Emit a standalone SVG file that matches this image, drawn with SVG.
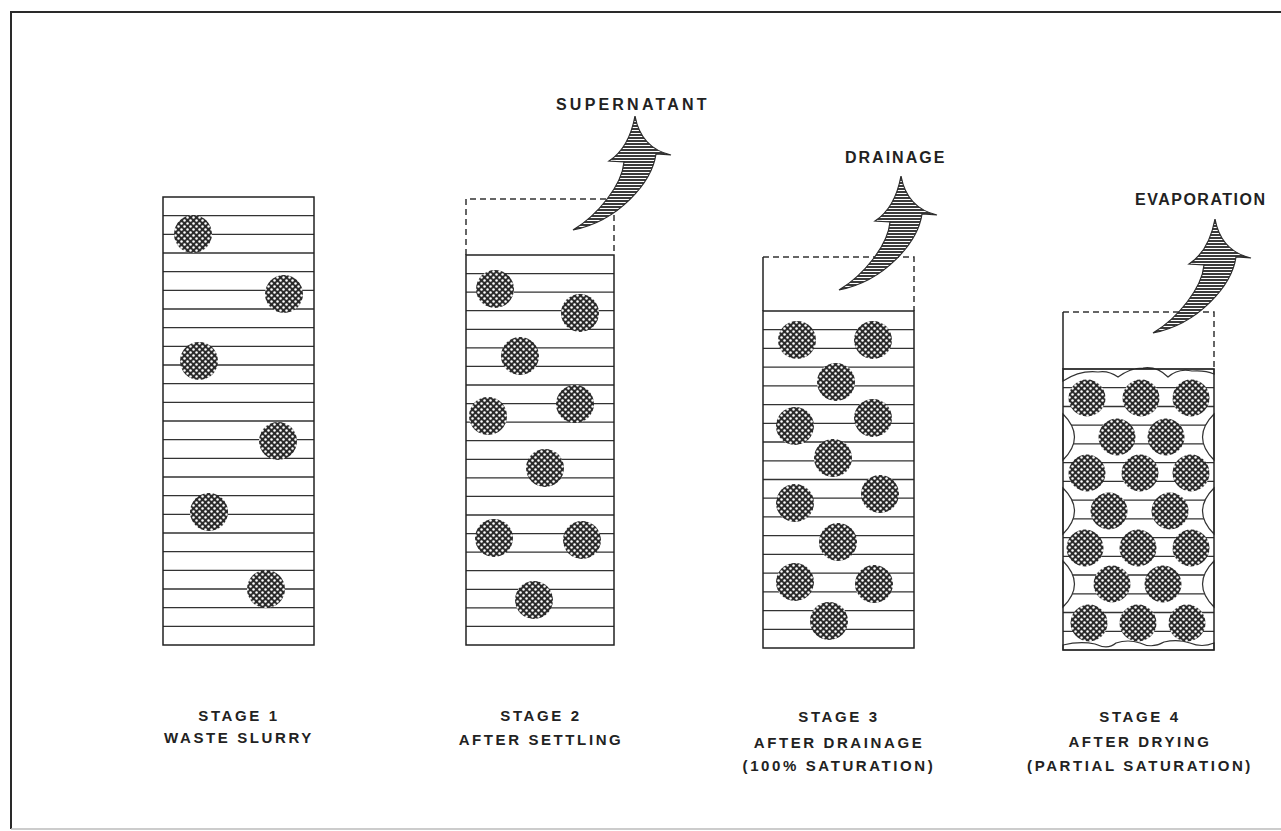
<svg xmlns="http://www.w3.org/2000/svg" width="1281" height="831" viewBox="0 0 1281 831">
  <style>
    .frame { fill: none; stroke: #2a2a2a; stroke-width: 2; }
    .box { fill: none; stroke: #222; stroke-width: 1.5; }
    .dash { fill: none; stroke: #333; stroke-width: 1.5; stroke-dasharray: 6 4; }
    .lines { fill: none; stroke: #333; stroke-width: 1.3; }
    .grain { fill: url(#dots); }
    .flow { fill: url(#hatch); stroke: #2a2a2a; stroke-width: 1.2; }
    .pocket { fill: #fff; stroke: #333; stroke-width: 1.2; }
    .cap { font-family: "Liberation Sans", Arial, sans-serif; font-weight: bold; font-size: 15px; letter-spacing: 2.6px; fill: #222; text-anchor: middle; }
    .tag { font-family: "Liberation Sans", Arial, sans-serif; font-weight: bold; font-size: 16px; letter-spacing: 3.2px; fill: #222; }
  </style>
  <defs>
    <!-- dark solid particle with light speckle -->
    <pattern id="dots" patternUnits="userSpaceOnUse" width="6" height="6">
      <rect width="6" height="6" fill="#2b2b2b"/>
      <circle cx="1.5" cy="1.5" r="1.25" fill="#fff"/>
      <circle cx="4.5" cy="4.5" r="1.25" fill="#fff"/>
    </pattern>
    <!-- horizontal hatching for the flow arrows -->
    <pattern id="hatch" patternUnits="userSpaceOnUse" width="4" height="3">
      <rect width="4" height="3" fill="#fff"/>
      <rect width="4" height="2" fill="#3a3a3a"/>
    </pattern>
    <path id="flow" d="M0,0 C25,-15 49,-45 51,-68 L36,-69 Q56,-82 62,-114 Q68,-82 98,-75 L83,-76 C79,-48 46,-9 0,0 Z"/>
  </defs>

  <!-- outer frame -->
  <path class="frame" d="M1281,12 H11 V829"/>
  <path d="M11,829 H1281" stroke="#bbb" stroke-width="1.5" fill="none"/>

  <!-- stage 1: waste slurry -->
  <g id="stage1">
    <path class="lines" d="M163,215.7H314M163,234.3H314M163,253H314M163,271.7H314M163,290.3H314M163,309H314M163,327.7H314M163,346.3H314M163,365H314M163,383.7H314M163,402.3H314M163,421H314M163,439.7H314M163,458.3H314M163,477H314M163,495.7H314M163,514.3H314M163,533H314M163,551.7H314M163,570.3H314M163,589H314M163,607.7H314M163,626.3H314"/>
    <rect class="box" x="163" y="197" width="151" height="448"/>
    <circle class="grain" cx="193" cy="234" r="19"/>
    <circle class="grain" cx="284" cy="294" r="19"/>
    <circle class="grain" cx="199" cy="361" r="19"/>
    <circle class="grain" cx="278" cy="441" r="19"/>
    <circle class="grain" cx="209" cy="512" r="19"/>
    <circle class="grain" cx="266" cy="589" r="19"/>
    <text class="cap" x="239" y="721">STAGE 1</text>
    <text class="cap" x="239" y="743">WASTE SLURRY</text>
  </g>

  <!-- stage 2: after settling -->
  <g id="stage2">
    <path class="dash" d="M466,255 V199 H614 V255"/>
    <path class="lines" d="M466,273.6H614M466,292.1H614M466,310.7H614M466,329.3H614M466,347.9H614M466,366.4H614M466,385H614M466,403.6H614M466,422.1H614M466,440.7H614M466,459.3H614M466,477.9H614M466,496.4H614M466,515H614M466,533.6H614M466,552.1H614M466,570.7H614M466,589.3H614M466,607.9H614M466,626.4H614"/>
    <rect class="box" x="466" y="255" width="148" height="390"/>
    <circle class="grain" cx="495" cy="289" r="19"/>
    <circle class="grain" cx="580" cy="313" r="19"/>
    <circle class="grain" cx="520" cy="356" r="19"/>
    <circle class="grain" cx="488" cy="416" r="19"/>
    <circle class="grain" cx="575" cy="404" r="19"/>
    <circle class="grain" cx="545" cy="468" r="19"/>
    <circle class="grain" cx="494" cy="538" r="19"/>
    <circle class="grain" cx="582" cy="540" r="19"/>
    <circle class="grain" cx="534" cy="600" r="19"/>
    <text class="cap" x="541" y="721">STAGE 2</text>
    <text class="cap" x="541" y="745">AFTER SETTLING</text>
  </g>

  <!-- stage 3: after drainage -->
  <g id="stage3">
    <path class="dash" d="M763,257 H914 V311"/>
    <path class="box" d="M763,257 V311"/>
    <path class="lines" d="M763,329.7H914M763,348.4H914M763,367.2H914M763,385.9H914M763,404.6H914M763,423.3H914M763,442H914M763,460.8H914M763,479.5H914M763,498.2H914M763,516.9H914M763,535.7H914M763,554.4H914M763,573.1H914M763,591.8H914M763,610.6H914M763,629.3H914"/>
    <rect class="box" x="763" y="311" width="151" height="337"/>
    <circle class="grain" cx="797" cy="340" r="19"/>
    <circle class="grain" cx="873" cy="340" r="19"/>
    <circle class="grain" cx="836" cy="382" r="19"/>
    <circle class="grain" cx="795" cy="426" r="19"/>
    <circle class="grain" cx="873" cy="418" r="19"/>
    <circle class="grain" cx="833" cy="458" r="19"/>
    <circle class="grain" cx="795" cy="503" r="19"/>
    <circle class="grain" cx="880" cy="494" r="19"/>
    <circle class="grain" cx="838" cy="542" r="19"/>
    <circle class="grain" cx="795" cy="582" r="19"/>
    <circle class="grain" cx="874" cy="584" r="19"/>
    <circle class="grain" cx="829" cy="621" r="19"/>
    <text class="cap" x="839" y="722">STAGE 3</text>
    <text class="cap" x="839" y="748">AFTER DRAINAGE</text>
    <text class="cap" x="839" y="771">(100% SATURATION)</text>
  </g>

  <!-- stage 4: after drying -->
  <g id="stage4">
    <path class="dash" d="M1063,312 H1214 V369"/>
    <path class="box" d="M1063,312 V369"/>
    <path class="lines" d="M1063,387.7H1214M1063,406.5H1214M1063,425.2H1214M1063,443.9H1214M1063,462.7H1214M1063,481.4H1214M1063,500.1H1214M1063,518.8H1214M1063,537.6H1214M1063,556.3H1214M1063,575H1214M1063,593.8H1214M1063,612.5H1214M1063,631.3H1214"/>
    <!-- air pockets along the walls -->
    <path class="pocket" d="M1063,369 H1214 V374 Q1205,370 1192,371 Q1178,368 1168,377 Q1157,366 1143,368 Q1130,368 1118,377 Q1108,370 1098,372 Q1080,370 1063,381 Z"/>
    <path class="pocket" d="M1063,414 Q1086,437 1063,460 Z"/>
    <path class="pocket" d="M1063,488 Q1086,511 1063,534 Z"/>
    <path class="pocket" d="M1063,561 Q1086,584 1063,607 Z"/>
    <path class="pocket" d="M1214,414 Q1191,437 1214,460 Z"/>
    <path class="pocket" d="M1214,488 Q1191,511 1214,534 Z"/>
    <path class="pocket" d="M1214,561 Q1191,584 1214,607 Z"/>
    <path class="pocket" d="M1063,650 V645 Q1080,641 1095,644 Q1108,650 1116,643 Q1128,639 1140,643 Q1152,649 1164,642 Q1178,639 1190,643 Q1202,648 1214,643 V650 Z"/>
    <rect class="box" x="1063" y="369" width="151" height="281"/>
    <circle class="grain" cx="1087" cy="398" r="18.5"/>
    <circle class="grain" cx="1141" cy="398" r="18.5"/>
    <circle class="grain" cx="1191" cy="398" r="18.5"/>
    <circle class="grain" cx="1117" cy="437" r="18.5"/>
    <circle class="grain" cx="1166" cy="437" r="18.5"/>
    <circle class="grain" cx="1087" cy="473" r="18.5"/>
    <circle class="grain" cx="1140" cy="473" r="18.5"/>
    <circle class="grain" cx="1191" cy="473" r="18.5"/>
    <circle class="grain" cx="1109" cy="511" r="18.5"/>
    <circle class="grain" cx="1170" cy="511" r="18.5"/>
    <circle class="grain" cx="1085" cy="548" r="18.5"/>
    <circle class="grain" cx="1138" cy="548" r="18.5"/>
    <circle class="grain" cx="1191" cy="548" r="18.5"/>
    <circle class="grain" cx="1112" cy="584" r="18.5"/>
    <circle class="grain" cx="1163" cy="584" r="18.5"/>
    <circle class="grain" cx="1089" cy="623" r="18.5"/>
    <circle class="grain" cx="1138" cy="623" r="18.5"/>
    <circle class="grain" cx="1187" cy="623" r="18.5"/>
    <text class="cap" x="1140" y="722">STAGE 4</text>
    <text class="cap" x="1140" y="747">AFTER DRYING</text>
    <text class="cap" x="1140" y="771">(PARTIAL SATURATION)</text>
  </g>

  <!-- water leaving each stage -->
  <g id="flows">
    <use href="#flow" class="flow" x="573" y="230"/>
    <use href="#flow" class="flow" x="839" y="290"/>
    <use href="#flow" class="flow" x="1153" y="333"/>
    <text class="tag" x="556" y="110">SUPERNATANT</text>
    <text class="tag" x="845" y="163" style="letter-spacing:2px">DRAINAGE</text>
    <text class="tag" x="1135" y="205" style="letter-spacing:1.5px">EVAPORATION</text>
  </g>
</svg>
